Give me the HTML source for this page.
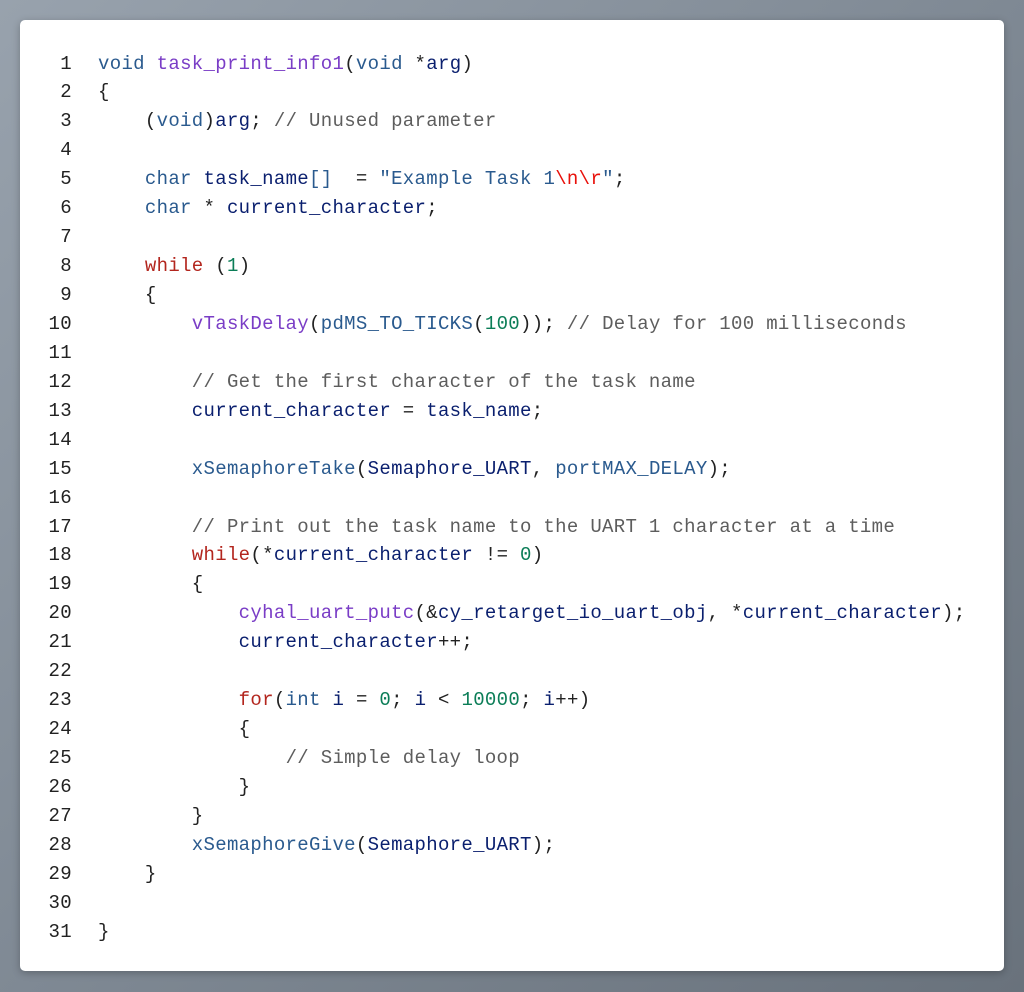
<!DOCTYPE html>
<html><head><meta charset="utf-8"><style>
html,body{margin:0;padding:0}
body{width:1024px;height:992px;background:linear-gradient(135deg,#98a2ad 0%,#7f8994 50%,#69727c 100%);position:relative;overflow:hidden}
.card{position:absolute;left:20px;top:20px;width:984px;height:951px;background:#fff;border-radius:5px;box-shadow:0 2px 8px rgba(0,0,0,.25)}
pre{position:absolute;margin:0;top:49.5px;font-family:"Liberation Mono",monospace;font-size:19px;letter-spacing:0.32px;line-height:28.93px;color:#222}
.ln{left:40px;width:32px;text-align:right;color:#222}
.code{left:98px}
.k{color:#2a5a8e}.f{color:#7a3dc6}.i{color:#0a1f6e}.c{color:#5d5d5d}.r{color:#b3261e}.n{color:#0b7d57}.s{color:#2a5a8e}.e{color:#e8100a}
</style></head><body>
<div class="card"></div>
<pre class="ln">1
2
3
4
5
6
7
8
9
10
11
12
13
14
15
16
17
18
19
20
21
22
23
24
25
26
27
28
29
30
31</pre>
<pre class="code"><span class="k">void</span> <span class="f">task_print_info1</span>(<span class="k">void</span> *<span class="i">arg</span>)
{
    (<span class="k">void</span>)<span class="i">arg</span>; <span class="c">// Unused parameter</span>

    <span class="k">char</span> <span class="i">task_name</span><span class="k">[]</span>  = <span class="s">"Example Task 1</span><span class="e">\n\r</span><span class="s">"</span>;
    <span class="k">char</span> * <span class="i">current_character</span>;

    <span class="r">while</span> (<span class="n">1</span>)
    {
        <span class="f">vTaskDelay</span>(<span class="k">pdMS_TO_TICKS</span>(<span class="n">100</span>)); <span class="c">// Delay for 100 milliseconds</span>

        <span class="c">// Get the first character of the task name</span>
        <span class="i">current_character</span> = <span class="i">task_name</span>;

        <span class="k">xSemaphoreTake</span>(<span class="i">Semaphore_UART</span>, <span class="k">portMAX_DELAY</span>);

        <span class="c">// Print out the task name to the UART 1 character at a time</span>
        <span class="r">while</span>(*<span class="i">current_character</span> != <span class="n">0</span>)
        {
            <span class="f">cyhal_uart_putc</span>(&amp;<span class="i">cy_retarget_io_uart_obj</span>, *<span class="i">current_character</span>);
            <span class="i">current_character</span>++;

            <span class="r">for</span>(<span class="k">int</span> <span class="i">i</span> = <span class="n">0</span>; <span class="i">i</span> &lt; <span class="n">10000</span>; <span class="i">i</span>++)
            {
                <span class="c">// Simple delay loop</span>
            }
        }
        <span class="k">xSemaphoreGive</span>(<span class="i">Semaphore_UART</span>);
    }

}</pre>
</body></html>
